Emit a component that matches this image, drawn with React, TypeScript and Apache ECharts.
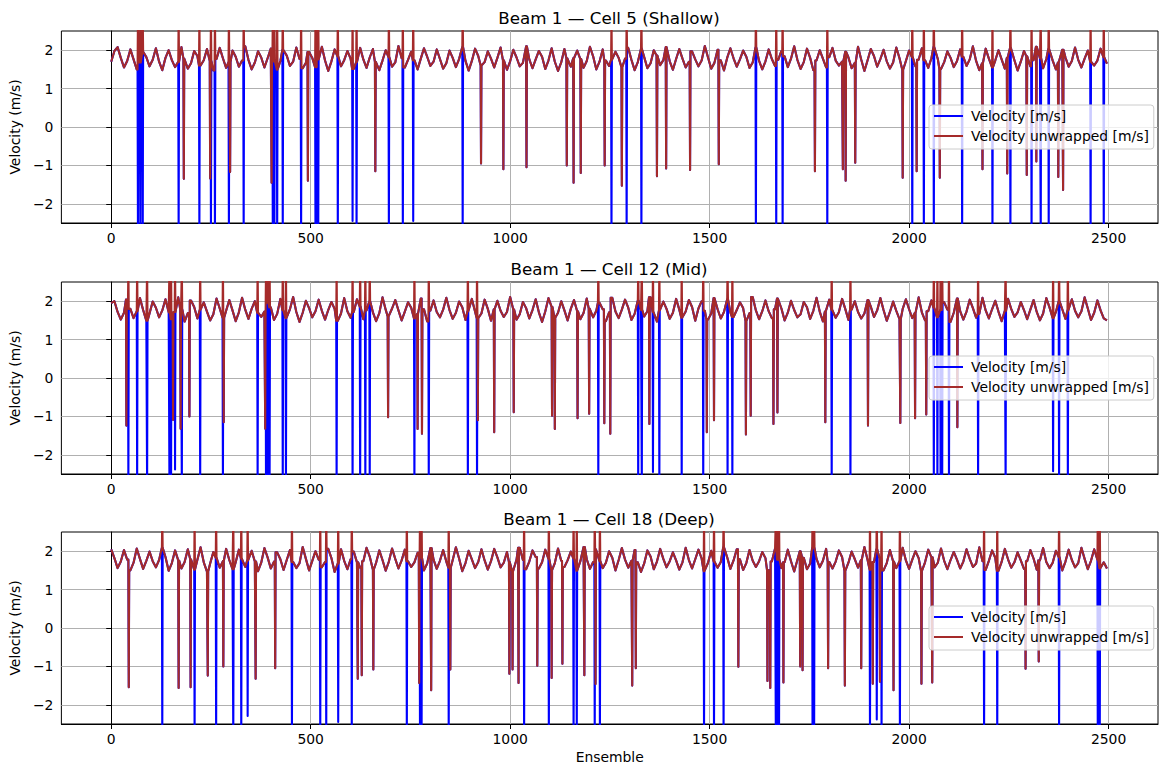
import React, { useEffect, useRef } from 'react';
import * as echarts from 'echarts';

const STEP = 8; // ensemble spacing of the baseline samples below
const X_TICKS = [0, 500, 1000, 1500, 2000, 2500];
const Y_TICKS = [-2, -1, 0, 1, 2];
const TITLES = ['Beam 1 — Cell 5 (Shallow)', 'Beam 1 — Cell 12 (Mid)', 'Beam 1 — Cell 18 (Deep)'];
const NAME_WRAPPED = 'Velocity [m/s]';
const NAME_UNWRAPPED = 'Velocity unwrapped [m/s]';
const Y_NAME = 'Velocity (m/s)';
const X_NAME = 'Ensemble';

// baseline velocity, one value every STEP ensembles
const BASE_1 = [
  1.70,1.98,2.08,1.80,1.55,1.72,2.02,1.76,
  1.50,1.68,1.96,1.82,1.58,1.75,2.05,1.70,
  1.48,1.80,2.00,1.74,1.56,1.70,2.08,1.78,
  1.52,1.66,1.98,1.85,1.60,1.74,2.03,1.72,
  1.47,1.77,2.06,1.79,1.54,1.69,1.99,1.83,
  1.57,1.73,2.10,1.75,1.50,1.68,1.97,1.81,
  1.55,1.79,2.04,1.71,1.49,1.72,2.01,1.86,
  1.59,1.70,2.07,1.77,1.53,1.67,1.95,1.80,
  1.56,1.76,2.09,1.73,1.46,1.71,2.02,1.84,
  1.58,1.74,1.98,1.78,1.51,1.69,2.06,1.76,
  1.54,1.81,2.03,1.70,1.48,1.73,2.00,1.82,
  1.57,1.68,2.11,1.79,1.55,1.75,1.96,1.74,
  1.50,1.78,2.05,1.83,1.59,1.70,2.02,1.77,
  1.52,1.66,1.99,1.80,1.56,1.77,2.08,1.72,
  1.47,1.72,2.04,1.85,1.60,1.69,1.97,1.78,
  1.55,1.80,2.07,1.74,1.49,1.71,2.01,1.81,
  1.58,1.67,2.10,1.76,1.53,1.76,1.98,1.83,
  1.51,1.73,2.05,1.70,1.46,1.68,2.03,1.79,
  1.57,1.79,1.99,1.77,1.54,1.72,2.09,1.84,
  1.50,1.70,2.02,1.73,1.59,1.75,1.96,1.80,
  1.56,1.78,2.06,1.75,1.48,1.69,2.04,1.82,
  1.53,1.66,2.00,1.86,1.61,1.74,2.08,1.71,
  1.49,1.77,2.03,1.78,1.55,1.70,1.97,1.76,
  1.58,1.73,2.11,1.81,1.52,1.67,2.01,1.74,
  1.47,1.80,2.05,1.79,1.57,1.76,1.99,1.83,
  1.54,1.68,2.07,1.72,1.50,1.71,2.02,1.77,
  1.59,1.75,1.98,1.84,1.56,1.78,2.10,1.75,
  1.51,1.69,2.04,1.80,1.48,1.73,2.00,1.78,
  1.55,1.82,2.06,1.73,1.60,1.70,1.96,1.81,
  1.53,1.67,2.09,1.76,1.46,1.74,2.03,1.85,
  1.57,1.77,2.01,1.71,1.52,1.68,2.07,1.79,
  1.49,1.72,1.99,1.82,1.58,1.75,2.05,1.74,
  1.54,1.79,2.08,1.77,1.51,1.69,1.97,1.80,
  1.56,1.71,2.02,1.83,1.59,1.76,2.10,1.72,
  1.48,1.66,2.04,1.78,1.55,1.73,2.00,1.76,
  1.52,1.80,2.06,1.74,1.47,1.70,1.98,1.84,
  1.58,1.74,2.09,1.79,1.53,1.77,2.03,1.73,
  1.50,1.68,2.01,1.81,1.57,1.72,2.07,1.75,
  1.55,1.78,1.99,1.70,1.60,1.73,2.04,1.82,
  1.65,
];
const BASE_2 = [
  1.95,2.00,1.72,1.52,1.70,2.04,1.80,1.56,
  1.74,2.08,1.77,1.49,1.68,1.99,1.83,1.58,
  1.76,2.05,1.71,1.53,1.72,2.10,1.79,1.47,
  1.69,2.02,1.85,1.55,1.78,1.97,1.73,1.50,
  1.66,2.07,1.81,1.57,1.75,2.03,1.76,1.48,
  1.71,2.09,1.78,1.54,1.80,2.00,1.70,1.59,
  1.73,1.96,1.84,1.51,1.67,2.06,1.77,1.56,
  1.79,2.11,1.72,1.46,1.70,2.01,1.82,1.58,
  1.74,2.04,1.75,1.52,1.77,1.98,1.80,1.49,
  1.68,2.08,1.74,1.57,1.72,2.05,1.86,1.53,
  1.76,2.00,1.71,1.48,1.69,2.10,1.78,1.60,
  1.81,2.03,1.76,1.50,1.73,1.97,1.83,1.55,
  1.67,2.07,1.79,1.47,1.75,2.02,1.72,1.58,
  1.78,2.09,1.77,1.54,1.70,1.99,1.84,1.51,
  1.74,2.06,1.73,1.56,1.68,2.04,1.80,1.49,
  1.79,2.01,1.75,1.59,1.72,2.11,1.78,1.52,
  1.66,1.98,1.82,1.55,1.77,2.05,1.71,1.46,
  1.73,2.08,1.85,1.57,1.70,2.00,1.76,1.50,
  1.80,2.03,1.74,1.53,1.69,2.07,1.81,1.58,
  1.75,1.96,1.79,1.48,1.71,2.09,1.73,1.56,
  1.78,2.04,1.83,1.51,1.67,2.02,1.77,1.60,
  1.74,2.10,1.72,1.47,1.76,1.99,1.80,1.54,
  1.70,2.06,1.78,1.57,1.73,2.03,1.85,1.49,
  1.81,2.00,1.75,1.52,1.68,2.08,1.79,1.55,
  1.72,2.05,1.71,1.59,1.77,1.97,1.82,1.48,
  1.69,2.11,1.76,1.53,1.74,2.02,1.74,1.56,
  1.79,2.07,1.81,1.50,1.70,2.01,1.77,1.58,
  1.66,1.98,1.84,1.54,1.75,2.09,1.73,1.47,
  1.73,2.04,1.78,1.57,1.71,2.06,1.80,1.51,
  1.78,2.00,1.72,1.55,1.68,2.03,1.86,1.59,
  1.76,2.08,1.77,1.49,1.72,1.99,1.75,1.53,
  1.80,2.05,1.79,1.56,1.69,2.10,1.71,1.50,
  1.74,2.02,1.83,1.58,1.77,1.97,1.78,1.46,
  1.70,2.07,1.74,1.52,1.73,2.04,1.82,1.57,
  1.67,2.09,1.76,1.55,1.79,2.01,1.73,1.48,
  1.75,2.06,1.80,1.59,1.71,1.98,1.77,1.53,
  1.78,2.03,1.72,1.50,1.68,2.08,1.84,1.56,
  1.72,2.00,1.79,1.54,1.76,2.05,1.75,1.58,
  1.74,2.10,1.81,1.51,1.70,2.02,1.76,1.55,
  1.50,
];
const BASE_3 = [
  2.05,1.82,1.56,1.73,2.03,1.78,1.50,1.70,
  2.07,1.80,1.54,1.75,1.99,1.74,1.58,1.77,
  2.09,1.85,1.49,1.69,2.02,1.76,1.55,1.72,
  2.05,1.79,1.52,1.78,2.10,1.71,1.47,1.68,
  1.98,1.83,1.57,1.74,2.06,1.77,1.53,1.71,
  2.04,1.81,1.59,1.76,2.01,1.73,1.48,1.70,
  2.08,1.84,1.55,1.73,1.97,1.79,1.51,1.77,
  2.03,1.72,1.56,1.69,2.11,1.80,1.50,1.75,
  2.00,1.78,1.58,1.72,2.06,1.82,1.46,1.68,
  2.05,1.75,1.53,1.79,1.99,1.71,1.57,1.74,
  2.09,1.86,1.52,1.70,2.02,1.77,1.49,1.73,
  2.07,1.80,1.55,1.76,2.04,1.74,1.59,1.71,
  1.96,1.83,1.50,1.68,2.08,1.78,1.54,1.75,
  2.03,1.73,1.57,1.77,2.10,1.81,1.48,1.69,
  2.01,1.79,1.56,1.72,2.05,1.76,1.52,1.74,
  2.06,1.84,1.58,1.70,1.98,1.72,1.47,1.78,
  2.09,1.77,1.53,1.73,2.02,1.85,1.55,1.71,
  2.04,1.80,1.51,1.69,2.07,1.75,1.59,1.76,
  1.99,1.82,1.49,1.74,2.11,1.79,1.54,1.72,
  2.05,1.74,1.56,1.70,2.00,1.83,1.50,1.77,
  2.08,1.78,1.57,1.75,2.03,1.71,1.46,1.68,
  2.02,1.86,1.53,1.73,2.06,1.80,1.58,1.74,
  1.97,1.76,1.52,1.71,2.09,1.77,1.55,1.79,
  2.04,1.81,1.48,1.70,2.01,1.73,1.57,1.72,
  2.10,1.84,1.54,1.76,2.05,1.79,1.51,1.69,
  2.03,1.75,1.59,1.74,1.98,1.82,1.50,1.73,
  2.07,1.78,1.56,1.71,2.04,1.74,1.47,1.77,
  2.00,1.83,1.53,1.68,2.08,1.80,1.58,1.75,
  2.06,1.72,1.55,1.73,2.02,1.85,1.49,1.70,
  1.99,1.79,1.57,1.76,2.11,1.77,1.52,1.72,
  2.05,1.81,1.50,1.69,2.03,1.73,1.56,1.74,
  2.09,1.76,1.54,1.78,2.00,1.82,1.48,1.71,
  2.04,1.84,1.58,1.70,2.07,1.75,1.53,1.77,
  1.98,1.78,1.55,1.73,2.05,1.80,1.59,1.68,
  2.10,1.74,1.51,1.75,2.02,1.83,1.49,1.72,
  2.06,1.79,1.57,1.71,1.97,1.76,1.54,1.74,
  2.03,1.81,1.52,1.76,2.08,1.72,1.56,1.70,
  2.01,1.85,1.50,1.73,2.04,1.77,1.58,1.69,
  2.09,1.80,1.53,1.75,2.05,1.78,1.55,1.71,
  1.55,
];

// wrap events: [ensemble, unwrapped value, wrapped value]
const UP_1: [number, number, number][] = [
  [67,2.9,-2.9],[73,2.9,-2.9],[79,2.9,-2.9],[169,2.9,-2.9],[221,2.9,-2.9],[250,2.9,-2.9],
  [260,2.9,-2.9],[295,2.9,-2.9],[332,2.9,-2.9],[405,2.9,-2.9],[409,2.9,-2.9],[416,2.9,-2.9],
  [430,2.9,-2.9],[476,2.9,-2.9],[512,2.9,-2.9],[516,2.9,-2.9],[519,2.9,-2.9],[568,2.9,-2.9],
  [605,2.9,-2.45],[615,2.9,-2.9],[696,2.9,-2.9],[731,2.9,-2.9],[757,2.9,-2.45],[881,2.9,-2.9],
  [1254,2.9,-2.9],[1292,2.9,-2.9],[1329,2.9,-2.9],[1616,2.9,-2.9],[1667,2.9,-2.9],[1683,2.9,-2.9],
  [1795,2.9,-2.9],[2008,2.9,-2.9],[2037,2.9,-2.9],[2062,2.9,-2.9],[2133,2.9,-2.9],[2209,2.9,-2.9],
  [2254,2.9,-2.9],[2307,2.9,-2.9],[2330,2.9,-2.9],[2350,2.9,-2.9],[2455,2.9,-2.9],[2488,2.9,-2.9],
];
const UP_2: [number, number, number][] = [
  [43,2.9,-2.9],[65,2.9,-2.9],[90,2.9,-2.9],[146,2.9,-2.9],[150,2.9,-2.9],[160,2.9,-2.38],
  [177,2.9,-2.9],[223,2.9,-2.9],[280,2.9,-2.9],[367,2.9,-2.9],[388,2.9,-2.9],[393,2.9,-2.9],
  [397,2.9,-2.9],[430,2.9,-2.9],[438,2.9,-2.9],[565,2.9,-2.9],[605,2.9,-2.9],[624,2.9,-2.9],
  [637,2.9,-2.9],[648,2.9,-2.9],[760,2.9,-2.9],[796,2.9,-2.9],[894,2.9,-2.9],[917,2.9,-2.9],
  [1221,2.9,-2.9],[1321,2.9,-2.9],[1330,2.9,-2.9],[1358,2.9,-2.45],[1374,2.9,-2.9],[1430,2.9,-2.9],
  [1484,2.9,-2.9],[1545,2.9,-2.9],[1557,2.9,-2.9],[1806,2.9,-2.9],[1853,2.9,-2.9],[2062,2.9,-2.9],
  [2071,2.9,-2.9],[2079,2.9,-2.9],[2083,2.9,-2.9],[2100,2.9,-2.9],[2173,2.9,-2.9],[2242,2.9,-2.9],
  [2361,2.9,-2.43],[2376,2.9,-2.9],[2398,2.9,-2.9],
];
const UP_3: [number, number, number][] = [
  [128,2.9,-2.9],[209,2.9,-2.9],[263,2.9,-2.9],[306,2.9,-2.9],[326,2.9,-2.9],[342,2.9,-2.29],
  [453,2.9,-2.9],[524,2.9,-2.9],[539,2.9,-2.9],[569,2.9,-2.45],[603,2.9,-2.9],[741,2.9,-2.9],
  [774,2.9,-2.9],[778,2.9,-2.9],[846,2.9,-2.9],[1035,2.9,-2.9],[1097,2.9,-2.9],[1159,2.9,-2.9],
  [1167,2.9,-2.9],[1212,2.9,-2.9],[1225,2.9,-2.9],[1486,2.9,-2.9],[1511,2.9,-2.9],[1535,2.9,-2.9],
  [1666,2.9,-2.9],[1670,2.9,-2.9],[1674,2.9,-2.9],[1758,2.9,-2.9],[1762,2.9,-2.9],[1902,2.9,-2.9],
  [1919,2.9,-2.38],[1931,2.9,-2.9],[1977,2.9,-2.9],[2188,2.9,-2.9],[2221,2.9,-2.9],[2376,2.9,-2.9],
  [2473,2.9,-2.9],[2478,2.9,-2.9],
];

// drop-outs seen in both series: [ensemble, value]
const DOWN_1: [number, number][] = [
  [182,-1.35],[248,-1.34],[298,-1.17],[402,-1.45],[493,-1.40],[662,-1.15],[927,-0.95],
  [983,-1.10],[1041,-1.05],[1142,-1.00],[1159,-1.45],[1177,-1.20],[1237,-1.00],[1280,-1.53],
  [1368,-1.28],[1391,-1.08],[1451,-1.12],[1523,-0.97],[1764,-1.15],[1834,-1.10],[1841,-1.40],
  [1865,-0.93],[1984,-1.32],[2019,-1.15],[2077,-1.32],[2184,-1.10],[2246,-1.21],[2295,-1.25],
  [2319,-0.90],[2374,-1.30],[2386,-1.64],
];
const DOWN_2: [number, number][] = [
  [38,-1.24],[155,-1.09],[174,-1.32],[196,-1.00],[282,-1.15],[386,-1.32],[694,-1.02],
  [768,-1.33],[779,-1.45],[919,-1.10],[960,-1.41],[1009,-0.89],[1105,-0.98],[1112,-1.33],
  [1169,-1.05],[1198,-0.93],[1236,-1.18],[1251,-1.45],[1349,-1.20],[1493,-1.41],[1511,-1.10],
  [1591,-1.47],[1603,-0.98],[1660,-1.20],[1670,-0.90],[1790,-1.15],[1897,-1.24],[1978,-1.17],
  [2015,-1.05],[2043,-0.95],[2121,-1.28],
];
const DOWN_3: [number, number][] = [
  [44,-1.54],[169,-1.56],[199,-1.54],[242,-1.24],[281,-1.00],[362,-1.32],[411,-1.05],
  [618,-1.32],[628,-1.23],[657,-1.08],[772,-1.43],[802,-1.62],[850,-1.08],[998,-1.19],
  [1006,-1.08],[1021,-1.43],[1068,-0.98],[1104,-1.30],[1131,-0.93],[1186,-1.23],[1214,-1.46],
  [1306,-1.50],[1315,-1.05],[1572,-1.01],[1645,-1.38],[1652,-1.56],[1685,-1.42],[1727,-1.00],
  [1733,-1.10],[1797,-1.05],[1839,-1.50],[1880,-1.05],[1909,-1.45],[1927,-1.40],[1961,-1.62],
  [2031,-1.45],[2058,-1.42],[2292,-1.06],[2325,-0.87],
];

const PANELS = [
  { base: BASE_1, up: UP_1, down: DOWN_1 },
  { base: BASE_2, up: UP_2, down: DOWN_2 },
  { base: BASE_3, up: UP_3, down: DOWN_3 },
];

function buildLine(base: number[], up: [number, number, number][], down: [number, number][], unwrapped: boolean) {
  const pts = new Map<number, number>();
  base.forEach((v, i) => pts.set(i * STEP, v));
  const spikes = new Map<number, number>();
  up.forEach(([x, r, w]) => spikes.set(x, unwrapped ? r : w));
  down.forEach(([x, v]) => spikes.set(x, v));
  const near = (x: number) => base[Math.min(base.length - 1, Math.max(0, Math.round(x / STEP)))];
  spikes.forEach((_, x) => {
    [x - 1, x + 1].forEach((n) => {
      if (n >= 0 && !spikes.has(n)) pts.set(n, near(n));
    });
  });
  spikes.forEach((v, x) => pts.set(x, v));
  return [...pts.entries()].sort((a, b) => a[0] - b[0]);
}

const FONT = 'DejaVu Sans';
const GRID_TOPS = [31, 282, 532];
const fmt = (v: number) => (v < 0 ? '\u2212' + String(Math.abs(v)) : String(v));

export default function App() {
  const ref = useRef<HTMLDivElement>(null);
  useEffect(() => {
    if (!ref.current) return;
    const chart = echarts.init(ref.current, undefined, { renderer: 'svg' });
    const textBase = { color: '#000', fontFamily: FONT, fontSize: 13.9 };
    const grid = GRID_TOPS.map((t) => ({
      left: 60, width: 1098, top: t, height: 192,
      show: true, borderColor: '#000', borderWidth: 1, backgroundColor: 'transparent',
    }));
    const xAxis = GRID_TOPS.map((_, i) => ({
      type: 'value', gridIndex: i, min: -124.95, max: 2623.95,
      axisLine: { show: true, onZero: false, lineStyle: { color: '#000', width: 1 } },
      axisTick: { show: true, customValues: X_TICKS, length: 5, lineStyle: { color: '#000', width: 1 } },
      axisLabel: { show: true, customValues: X_TICKS, margin: 8, formatter: fmt, ...textBase },
      splitLine: { show: true, lineStyle: { color: '#b0b0b0', width: 1 } },
      name: i === 2 ? X_NAME : '', nameLocation: 'middle', nameGap: 26,
      nameTextStyle: { ...textBase },
    }));
    const yAxis = GRID_TOPS.map((_, i) => ({
      type: 'value', gridIndex: i, min: -2.5, max: 2.5,
      axisLine: { show: true, lineStyle: { color: '#000', width: 1 } },
      axisTick: { show: true, customValues: Y_TICKS, length: 5, lineStyle: { color: '#000', width: 1 } },
      axisLabel: { show: true, customValues: Y_TICKS, margin: 8, formatter: fmt, ...textBase },
      splitLine: { show: true, lineStyle: { color: '#b0b0b0', width: 1 } },
      name: Y_NAME, nameLocation: 'middle', nameGap: 36, nameRotate: 90,
      nameTextStyle: { ...textBase },
    }));
    const series: any[] = [];
    PANELS.forEach((p, i) => {
      series.push({
        type: 'line', name: NAME_WRAPPED, xAxisIndex: i, yAxisIndex: i,
        data: buildLine(p.base, p.up, p.down, false), showSymbol: false, symbol: 'none',
        lineStyle: { color: '#0000ff', width: 2.08, join: 'round' }, itemStyle: { color: '#0000ff' },
        clip: true, silent: true,
      });
      series.push({
        type: 'line', name: NAME_UNWRAPPED, xAxisIndex: i, yAxisIndex: i,
        data: buildLine(p.base, p.up, p.down, true), showSymbol: false, symbol: 'none',
        lineStyle: { color: '#a52a2a', width: 2.08, join: 'round' }, itemStyle: { color: '#a52a2a' },
        clip: true, silent: true,
      });
    });
    const title = TITLES.map((t, i) => ({
      text: t, left: 609, top: GRID_TOPS[i] - 22, textAlign: 'center', padding: 0,
      textStyle: { color: '#000', fontFamily: FONT, fontSize: 16.7, fontWeight: 'normal' },
    }));
    const legend = GRID_TOPS.map((t) => ({
      show: true, orient: 'vertical', left: 929, top: t + 74,
      data: [NAME_WRAPPED, NAME_UNWRAPPED], selectedMode: false,
      icon: 'rect', itemWidth: 29, itemHeight: 2, itemGap: 4,
      padding: [3, 5, 5, 5],
      backgroundColor: 'rgba(255,255,255,0.8)', borderColor: '#cccccc', borderWidth: 1, borderRadius: 3,
      textStyle: { ...textBase, lineHeight: 16, padding: [0, 0, 0, 3] },
    }));
    chart.setOption({
      animation: false,
      backgroundColor: '#ffffff',
      title, legend, grid, xAxis, yAxis, series,
    });
    return () => chart.dispose();
  }, []);
  return <div ref={ref} style={{ position: 'absolute', left: 0, top: 0, width: 1159, height: 766 }} />;
}
